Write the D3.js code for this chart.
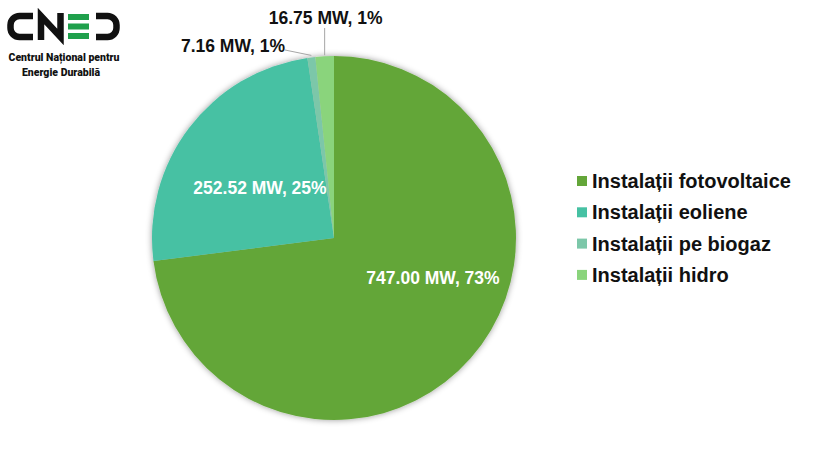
<!DOCTYPE html>
<html>
<head>
<meta charset="utf-8">
<script src="https://cdn.jsdelivr.net/npm/d3@7"></script>
<style>
  html, body { margin: 0; padding: 0; background: #fff; }
  svg { display: block; font-family: "Liberation Sans", Arial, sans-serif; }
</style>
</head>
<body>
<svg id="chart" width="835" height="453"></svg>
<script>
const categories = ["Instalații fotovoltaice", "Instalații eoliene", "Instalații pe biogaz", "Instalații hidro"];
const values = [747.00, 252.52, 7.16, 16.75];
const percentLabels = ["73%", "25%", "1%", "1%"];
const colors = ["#64A639", "#46C1A3", "#7CC7A9", "#8AD47C"];

const svg = d3.select("#chart");
const cx = 334, cy = 238, R = 182;

const defs = svg.append("defs");
const f = defs.append("filter").attr("id", "shadow").attr("x", "-20%").attr("y", "-20%").attr("width", "140%").attr("height", "140%");
f.append("feDropShadow").attr("dx", 0).attr("dy", 0).attr("stdDeviation", 3)
  .attr("flood-color", "#000").attr("flood-opacity", 0.4);

const data = categories.map((c, i) => ({ name: c, value: values[i], pct: percentLabels[i], color: colors[i] }));
const pie = d3.pie().sort(null).value(d => d.value);
const arcs = pie(data);
const arc = d3.arc().innerRadius(0).outerRadius(R);

const g = svg.append("g").attr("transform", `translate(${cx},${cy})`);
g.append("g").attr("filter", "url(#shadow)")
  .selectAll("path").data(arcs).join("path")
  .attr("d", arc).attr("fill", d => d.data.color);

const fmt = d3.format(".2f");
const labelText = d => `${fmt(d.data.value)} MW, ${d.data.pct}`;

// inside labels for the two big slices
g.selectAll("text.in").data(arcs.slice(0, 2)).join("text")
  .attr("class", "in")
  .attr("x", (d, i) => i === 0 ? 99 : -74)
  .attr("y", (d, i) => i === 0 ? 40 : -50)
  .attr("text-anchor", "middle").attr("dominant-baseline", "central")
  .attr("fill", "#fff").attr("font-weight", "bold").attr("font-size", "17.5px")
  .text(labelText);

const edge = d3.arc().innerRadius(R).outerRadius(R);
// biogaz
{
  const a = arcs[2];
  const p = edge.centroid(a);
  g.append("polyline")
    .attr("points", [[p[0], p[1] - 2], [-49, -188]].map(q => q.join(",")).join(" "))
    .attr("fill", "none").attr("stroke", "#a6a6a6").attr("stroke-width", 1);
  g.append("text").attr("x", -49).attr("y", -192)
    .attr("text-anchor", "end").attr("dominant-baseline", "central")
    .attr("font-weight", "bold").attr("font-size", "17.5px").attr("fill", "#111")
    .text(labelText(a));
}
// hidro
{
  const a = arcs[3];
  const p = edge.centroid(a);
  g.append("line").attr("x1", p[0]).attr("y1", p[1] - 1).attr("x2", p[0]).attr("y2", -210)
    .attr("stroke", "#a6a6a6").attr("stroke-width", 1);
  g.append("text").attr("x", p[0] + 1).attr("y", -220)
    .attr("text-anchor", "middle").attr("dominant-baseline", "central")
    .attr("font-weight", "bold").attr("font-size", "17.5px").attr("fill", "#111")
    .text(labelText(a));
}

// legend
const legend = svg.append("g").attr("transform", "translate(577,181)");
const row = legend.selectAll("g").data(data).join("g")
  .attr("transform", (d, i) => `translate(0,${i * 31.3})`);
row.append("rect").attr("x", 0).attr("y", -5).attr("width", 10).attr("height", 10).attr("fill", d => d.color);
row.append("text").attr("x", 15).attr("y", 0).attr("dominant-baseline", "central")
  .attr("font-weight", "bold").attr("font-size", "20px").attr("fill", "#111")
  .text(d => d.name);

// logo
const logo = svg.append("g");
const sw = 6.5;
logo.append("path").attr("d", "M33,16 L19.5,16 A9,9 0 0 0 10.5,25 L10.5,28 A9,9 0 0 0 19.5,37 L33,37")
  .attr("fill", "none").attr("stroke", "#111").attr("stroke-width", sw);
logo.append("path").attr("d", "M41,40 L41,16 L60.5,37 L60.5,13")
  .attr("fill", "none").attr("stroke", "#111").attr("stroke-width", sw).attr("stroke-linejoin", "miter");
[14, 23.5, 33].forEach(y => logo.append("rect").attr("x", 68).attr("y", y).attr("width", 21).attr("height", 6).attr("fill", "#1fa04c"));
logo.append("path").attr("d", "M96,16 L107.5,16 A9,9 0 0 1 116.5,25 L116.5,28 A9,9 0 0 1 107.5,37 L96,37")
  .attr("fill", "none").attr("stroke", "#111").attr("stroke-width", sw);
logo.append("text").attr("x", 64).attr("y", 57).attr("text-anchor", "middle").attr("dominant-baseline", "central")
  .attr("font-family", "Roboto, 'Liberation Sans', sans-serif").attr("font-weight", "900").attr("font-size", "10.5px").attr("fill", "#111")
  .text("Centrul Național pentru");
logo.append("text").attr("x", 61).attr("y", 72).attr("text-anchor", "middle").attr("dominant-baseline", "central")
  .attr("font-family", "Roboto, 'Liberation Sans', sans-serif").attr("font-weight", "900").attr("font-size", "10.5px").attr("fill", "#111")
  .text("Energie Durabilă");
</script>
</body>
</html>
